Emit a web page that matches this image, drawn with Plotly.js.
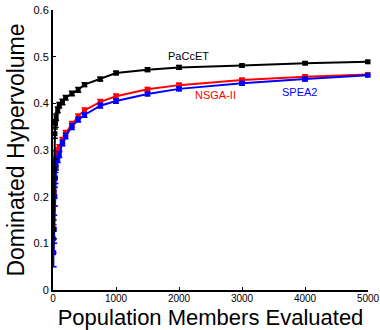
<!DOCTYPE html>
<html>
<head>
<meta charset="utf-8">
<script src="https://cdn.plot.ly/plotly-3.0.1.min.js"></script>
<style>html,body{margin:0;padding:0;background:#fff;}#chart{width:380px;height:330px;}</style>
</head>
<body>
<div id="chart"></div>
<script>
const evals = [10, 20, 30, 40, 50, 75, 100, 150, 200, 300, 400, 500, 750, 1000, 1500, 2000, 3000, 4000, 5000];
const paccet = [0.13, 0.26, 0.335, 0.357, 0.37, 0.386, 0.396, 0.403, 0.412, 0.421, 0.429, 0.440, 0.452, 0.465, 0.472, 0.477, 0.481, 0.486, 0.489];
const paccetErr = [0.02, 0.02, 0.01, 0.008, 0.007, 0.006, 0.006, 0.006, 0.005, 0.005, 0.005, 0.004, 0.004, 0.004, 0.004, 0.004, 0.003, 0.003, 0.003];
const nsga = [0.11, 0.21, 0.26, 0.275, 0.29, 0.298, 0.305, 0.321, 0.336, 0.355, 0.372, 0.385, 0.403, 0.415, 0.430, 0.439, 0.450, 0.457, 0.462];
const nsgaErr = [0.03, 0.03, 0.02, 0.01, 0.008, 0.007, 0.006, 0.006, 0.006, 0.006, 0.005, 0.005, 0.005, 0.005, 0.004, 0.004, 0.004, 0.004, 0.003];
const spea = [0.08, 0.13, 0.2, 0.24, 0.265, 0.28, 0.29, 0.315, 0.33, 0.35, 0.365, 0.375, 0.395, 0.405, 0.420, 0.431, 0.443, 0.452, 0.460];
const speaErr = [0.03, 0.03, 0.02, 0.012, 0.008, 0.007, 0.006, 0.006, 0.006, 0.006, 0.005, 0.005, 0.005, 0.005, 0.004, 0.004, 0.004, 0.004, 0.003];
const labels = ["PaCcET", "NSGA-II", "SPEA2"];
const colors = ["#000000", "#ff0000", "#0000ff"];

function tr(y, err, i) {
  return {
    x: evals, y: y, type: "scatter", mode: "lines+markers",
    line: {color: colors[i], width: 2},
    marker: {color: colors[i], size: 5, symbol: "square"},
    error_y: {type: "data", array: err, visible: true, color: colors[i], thickness: 1.5, width: 3},
    name: labels[i], showlegend: false, cliponaxis: false
  };
}
const data = [tr(nsga, nsgaErr, 1), tr(spea, speaErr, 2), tr(paccet, paccetErr, 0)];

const layout = {
  width: 380, height: 330,
  margin: {l: 53, r: 12, t: 10, b: 40},
  paper_bgcolor: "#fff", plot_bgcolor: "#fff",
  font: {family: "Liberation Sans, Arial, sans-serif", color: "#000"},
  xaxis: {
    range: [0, 5000], tickvals: [0, 1000, 2000, 3000, 4000, 5000],
    ticks: "inside", ticklen: 3, tickwidth: 1, tickcolor: "#000",
    showline: true, linecolor: "#000", linewidth: 2, showgrid: false, zeroline: false,
    ticklabeloverflow: "allow", ticklabelstandoff: -2,
    tickfont: {size: 10, color: "#000"},
    title: {text: "Population Members Evaluated", font: {size: 22, color: "#000"}}
  },
  yaxis: {
    range: [0, 0.6], tickvals: [0, 0.1, 0.2, 0.3, 0.4, 0.5, 0.6],
    ticktext: ["0", "0.1", "0.2", "0.3", "0.4", "0.5", "0.6"],
    ticks: "inside", ticklen: 3, tickwidth: 1, tickcolor: "#000",
    showline: true, linecolor: "#000", linewidth: 2, showgrid: false, zeroline: false,
    tickfont: {size: 11, color: "#000"},
    title: {text: "Dominated Hypervolume", font: {size: 23, color: "#000"}, standoff: 2}
  },
  annotations: [
    {x: 2150, y: 0.502, text: labels[0], showarrow: false, font: {size: 11, color: "#000"}},
    {x: 2580, y: 0.418, text: labels[1], showarrow: false, font: {size: 11, color: "#ff0000"}},
    {x: 3920, y: 0.425, text: labels[2], showarrow: false, font: {size: 11, color: "#0000ff"}}
  ]
};
Plotly.newPlot("chart", data, layout, {displayModeBar: false, staticPlot: true});
</script>
</body>
</html>
